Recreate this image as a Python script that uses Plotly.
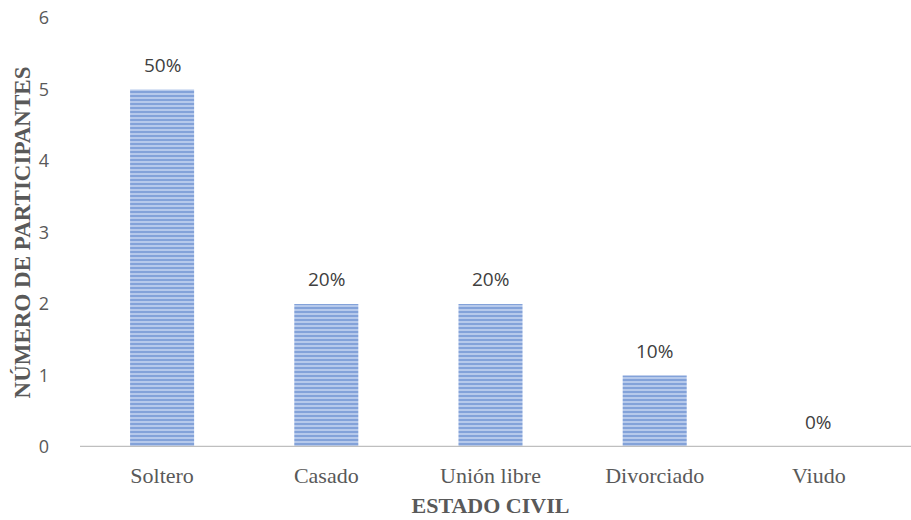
import plotly.graph_objects as go

categorias = ["Soltero", "Casado", "Unión libre", "Divorciado", "Viudo"]
participantes = [5, 2, 2, 1, 0]
porcentajes = ["50%", "20%", "20%", "10%", "0%"]
ticks_y = [0, 1, 2, 3, 4, 5, 6]

fig = go.Figure()
fig.add_trace(go.Bar(
    x=categorias,
    y=participantes,
    marker=dict(
        color="#B8CBEC",
        line=dict(width=0),
        pattern=dict(shape="-", fgcolor="#4472C4", bgcolor="#C3D3EF",
                     size=4, solidity=0.6, fillmode="overlay"),
    ),
    width=0.39,
    hoverinfo="skip",
))

# percentage labels above each bar
for cat, val, txt in zip(categorias, participantes, porcentajes):
    fig.add_annotation(
        x=cat, y=val, text=txt, showarrow=False,
        yanchor="bottom", yshift=10,
        font=dict(family="Open Sans", size=19, color="#404040"),
    )

# baseline running to the right edge of the page
fig.add_shape(type="line", xref="paper", yref="y",
              x0=0, x1=1.013, y0=0, y1=0,
              line=dict(color="#BFBFBF", width=2.5))

fig.update_layout(
    width=911, height=520,
    margin=dict(l=80, r=10, t=18, b=73),
    paper_bgcolor="white", plot_bgcolor="white",
    showlegend=False,
    xaxis=dict(
        showline=False, ticks="", showgrid=False, automargin=False,
        ticklabelstandoff=13,
        tickfont=dict(family="Liberation Serif", size=22, color="#595959"),
        title=dict(text="<b>ESTADO CIVIL</b>", standoff=10,
                   font=dict(family="Liberation Serif", size=22, color="#595959")),
    ),
    yaxis=dict(
        range=[0, 6], tickvals=ticks_y, showgrid=False, zeroline=False,
        showline=False, ticks="", automargin=False,
        tickfont=dict(family="Open Sans", size=18, color="#595959"),
        ticklabelstandoff=30,
        title=dict(text="<b>NÚMERO DE PARTICIPANTES</b>", standoff=1,
                   font=dict(family="Liberation Serif", size=23, color="#595959")),
    ),
)

fig.write_html("out.html")
